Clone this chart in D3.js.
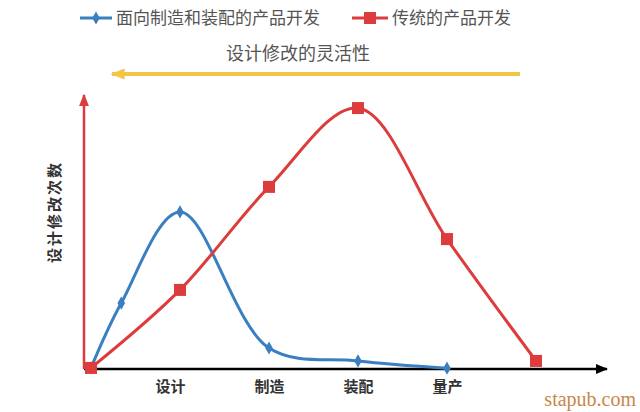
<!DOCTYPE html>
<html><head><meta charset="utf-8">
<script src="https://cdn.jsdelivr.net/npm/d3@7"></script>
<style>body{margin:0;background:#fff}svg{display:block}</style>
</head><body>
<script>
const categories = ["设计","制造","装配","量产"];
const categoryX = [1,2,3,4];
const blueName = "面向制造和装配的产品开发";
const redName = "传统的产品开发";
const blueX = [0, 0.34, 1, 2, 3, 4];
const blueY = [0.4, 24.5, 58.4, 7.8, 3, 0.3];
const redX = [0, 1, 2, 3, 4, 5];
const redY = [0.4, 29.4, 67.7, 97, 48.3, 3];
const titleText = "设计修改的灵活性";
const yLabel = "设计修改次数";
const watermark = "stapub.com";

const W = 640, H = 412;
const blue = "#3a7fbf", red = "#dc3c3c", yellow = "#f3c546";
const font = "'Noto Sans CJK SC', sans-serif";
const svg = d3.select("body").append("svg").attr("width", W).attr("height", H);

const x = d3.scaleLinear().domain([0,5]).range([91,536]);
const y = d3.scaleLinear().domain([0,100]).range([369,100]);

svg.append("defs").html(`
<marker id="ab" viewBox="0 0 10 10" refX="9" refY="5" markerWidth="5" markerHeight="5" orient="auto"><path d="M0,1L10,5L0,9z" fill="#000"/></marker>
<marker id="ar" viewBox="0 0 10 10" refX="9" refY="5" markerWidth="5" markerHeight="5" orient="auto"><path d="M0,1L10,5L0,9z" fill="${red}"/></marker>
<marker id="ay" viewBox="0 0 10 10" refX="9" refY="5" markerWidth="3.5" markerHeight="3.5" orient="auto"><path d="M0,1L10,5L0,9z" fill="${yellow}"/></marker>`);

// axes
svg.append("line").attr("x1",84).attr("x2",607).attr("y1",y(0)).attr("y2",y(0))
  .attr("stroke","#000").attr("stroke-width",2.5).attr("marker-end","url(#ab)");
svg.append("line").attr("x1",84).attr("x2",84).attr("y1",y(0)).attr("y2",95)
  .attr("stroke",red).attr("stroke-width",2.5).attr("marker-end","url(#ar)");

const xa = svg.append("g").attr("transform",`translate(0,${y(0)})`)
  .call(d3.axisBottom(x).tickValues(categoryX).tickFormat((d,i)=>categories[i]).tickSize(0).tickPadding(12));
xa.select(".domain").remove();
xa.selectAll("text").attr("font-family",font).attr("font-size",15).attr("font-weight","bold").attr("fill","#333");
xa.selectAll(".tick").filter((d)=>d===1).select("text").attr("dx",-10);

// y label
svg.append("text").attr("transform","translate(60,212) rotate(-90)").attr("text-anchor","middle")
  .attr("font-family",font).attr("font-size",15).attr("font-weight","bold").attr("fill","#333")
  .attr("letter-spacing",2).text(yLabel);

const line = d3.line().curve(d3.curveCatmullRom.alpha(0.5)).x(d=>x(d[0])).y(d=>y(d[1]));
const bluePts = blueX.map((v,i)=>[v,blueY[i]]);
const redPts = redX.map((v,i)=>[v,redY[i]]);

svg.append("path").attr("d",line(bluePts)).attr("fill","none").attr("stroke",blue).attr("stroke-width",3);
svg.append("path").attr("d",line(redPts)).attr("fill","none").attr("stroke",red).attr("stroke-width",3);

const diamond = d3.symbol().type(d3.symbolDiamond).size(50);
svg.selectAll(".bm").data(bluePts).join("path").attr("d",diamond)
  .attr("transform",d=>`translate(${x(d[0])},${y(d[1])})`).attr("fill",blue);
svg.selectAll(".rm").data(redPts).join("rect")
  .attr("x",d=>x(d[0])-6).attr("y",d=>y(d[1])-6).attr("width",12).attr("height",12).attr("fill",red);

// legend
const lg = svg.append("g");
lg.append("line").attr("x1",80).attr("x2",112).attr("y1",18).attr("y2",18).attr("stroke",blue).attr("stroke-width",3);
lg.append("path").attr("d",diamond).attr("transform","translate(96,18)").attr("fill",blue);
lg.append("text").attr("x",116).attr("y",24).attr("font-family",font).attr("font-size",17).attr("fill","#555").text(blueName);
lg.append("line").attr("x1",352).attr("x2",388).attr("y1",18).attr("y2",18).attr("stroke",red).attr("stroke-width",3);
lg.append("rect").attr("x",364).attr("y",12).attr("width",12).attr("height",12).attr("fill",red);
lg.append("text").attr("x",392).attr("y",24).attr("font-family",font).attr("font-size",17).attr("fill","#555").text(redName);

// title and arrow
svg.append("text").attr("x",298).attr("y",60).attr("text-anchor","middle").attr("font-family",font)
  .attr("font-size",18).attr("fill","#555").text(titleText);
svg.append("line").attr("x1",520).attr("x2",112).attr("y1",74).attr("y2",74)
  .attr("stroke",yellow).attr("stroke-width",4).attr("marker-end","url(#ay)");

// watermark
svg.append("text").attr("x",636).attr("y",406).attr("text-anchor","end").attr("font-family","'Liberation Serif', serif")
  .attr("font-size",20).attr("fill","#c8874a").text(watermark);
</script>
</body></html>
